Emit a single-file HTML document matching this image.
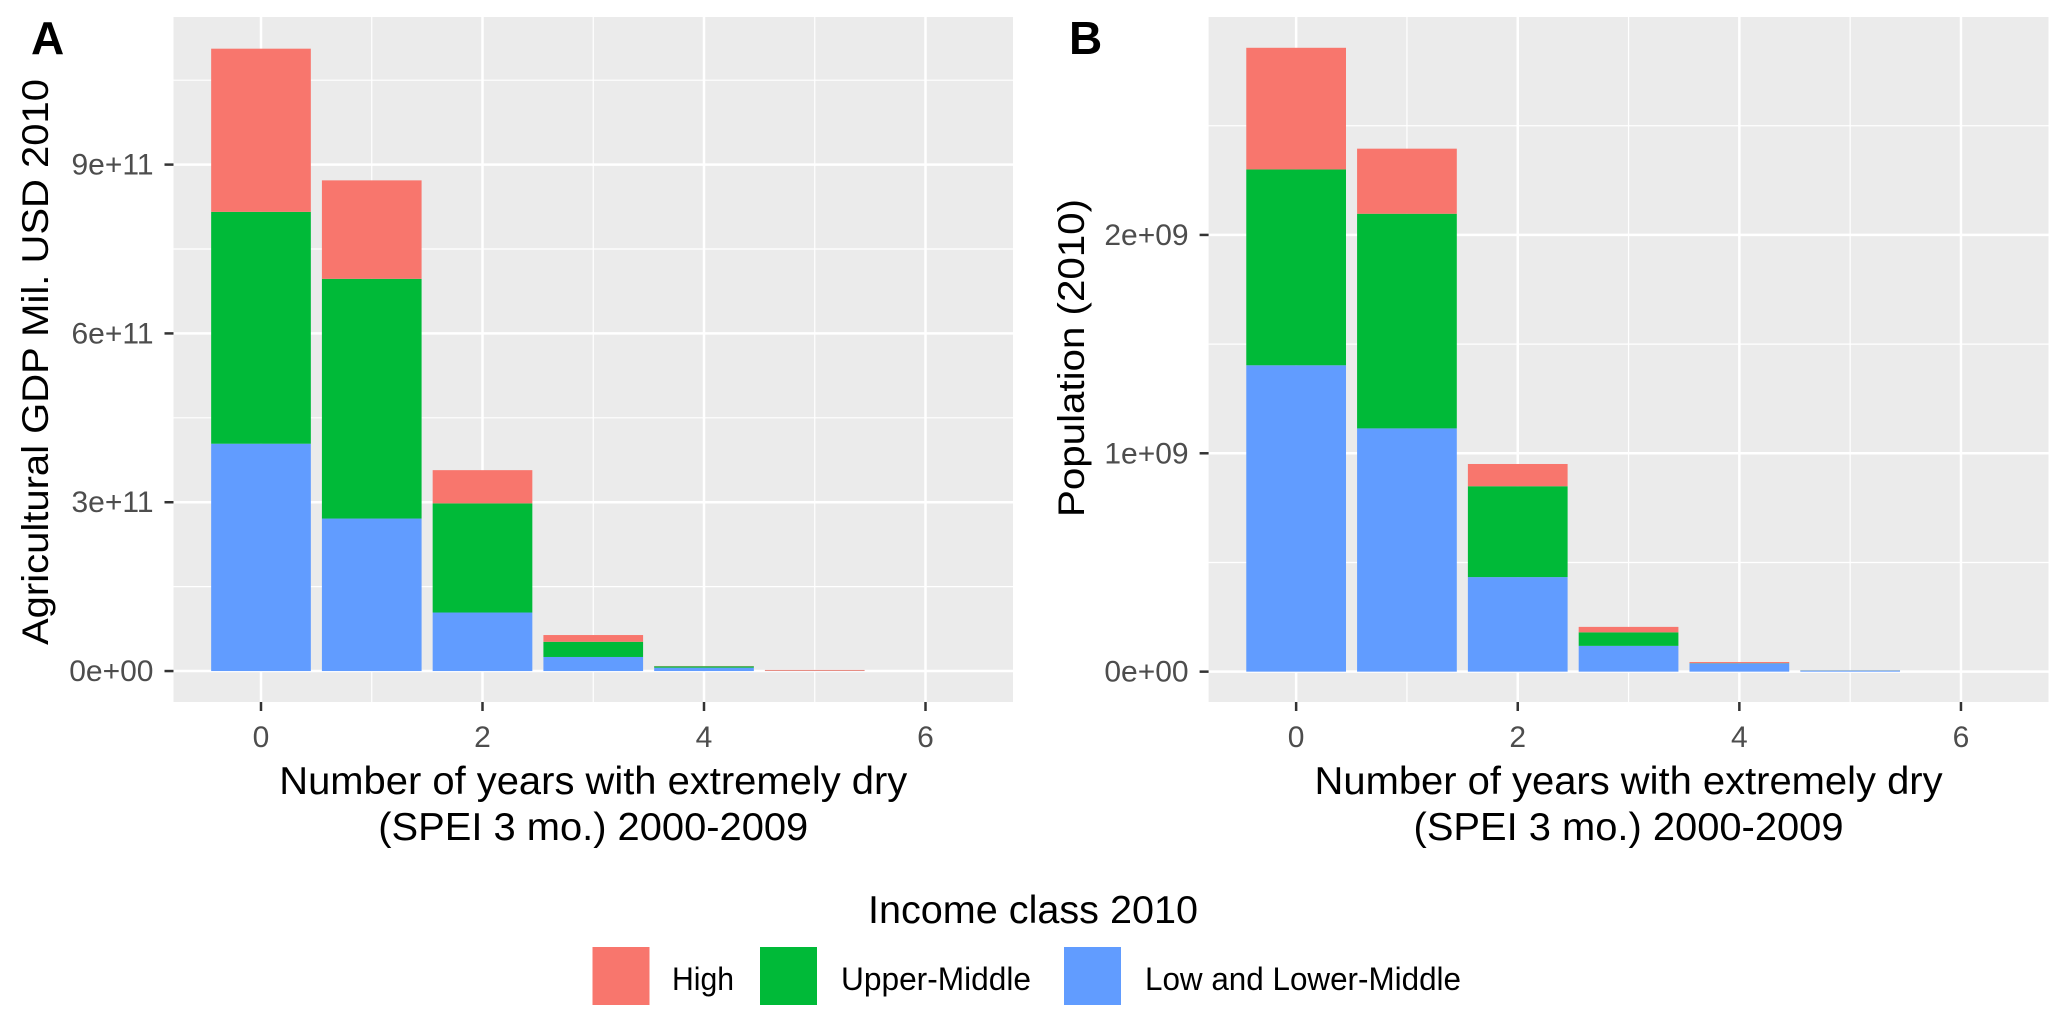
<!DOCTYPE html>
<html><head><meta charset="utf-8"><style>
html,body{margin:0;padding:0;background:#fff;}
svg{display:block;font-family:"Liberation Sans",Arial,sans-serif;}
</style></head><body>
<svg id="fig" width="2067" height="1025" viewBox="0 0 2067 1025" xmlns="http://www.w3.org/2000/svg"></svg>
<script>
// ---- data ----
const categories = [0, 1, 2, 3, 4, 5];
const seriesNames = ["Low and Lower-Middle", "Upper-Middle", "High"];
// Panel A: Agricultural GDP
const gdpLow   = [4.04e11, 2.71e11, 1.04e11, 2.5e10, 6.0e9, 0.3e9];
const gdpUpper = [4.12e11, 4.26e11, 1.94e11, 2.7e10, 2.5e9, 0.2e9];
const gdpHigh  = [2.90e11, 1.75e11, 5.9e10, 1.2e10, 0.5e9, 1.5e9];
const gdpTicks = [0, 3e11, 6e11, 9e11];
const gdpTickLabels = ["0e+00", "3e+11", "6e+11", "9e+11"];
const gdpMinor = [1.5e11, 4.5e11, 7.5e11, 10.5e11];
// Panel B: Population
const popLow   = [1.403e9, 1.114e9, 0.433e9, 0.118e9, 0.038e9, 0.005e9];
const popUpper = [0.897e9, 0.983e9, 0.416e9, 0.062e9, 0.001e9, 0.0005e9];
const popHigh  = [0.557e9, 0.298e9, 0.102e9, 0.025e9, 0.005e9, 0.0005e9];
const popTicks = [0, 1e9, 2e9];
const popTickLabels = ["0e+00", "1e+09", "2e+09"];
const popMinor = [0.5e9, 1.5e9, 2.5e9];
const xTicks = [0, 2, 4, 6];
const xMinor = [1, 3, 5];

const colors = ["#619CFF", "#00BA38", "#F8766D"];
const NS = "http://www.w3.org/2000/svg";
const svg = document.getElementById("fig");
function mk(tag, attrs, parent) {
  const e = document.createElementNS(NS, tag);
  for (const k in attrs) e.setAttribute(k, attrs[k]);
  (parent || svg).appendChild(e);
  return e;
}

function panel(cfg) {
  const g = mk("g", {});
  
  
  const L = cfg.left, R = cfg.right, T = 17, B = 702;
  const xs = v => L + (v - (-0.79)) / (6.79 - (-0.79)) * (R - L);
  const ys = v => B - (v - cfg.ymin) / (cfg.ymax - cfg.ymin) * (B - T);
  const bg = mk("rect", {x: L, y: T, width: R - L, height: B - T, fill: "#EBEBEB"}, g);
  
  
  cfg.minor.forEach(v => {
    const l = mk("line", {x1: L, x2: R, y1: ys(v), y2: ys(v), stroke: "#fff", "stroke-width": 1.2}, g);
    
    
  });
  xMinor.forEach(v => {
    const l = mk("line", {x1: xs(v), x2: xs(v), y1: T, y2: B, stroke: "#fff", "stroke-width": 1.2}, g);
    
    
  });
  cfg.ticks.forEach((v, i) => {
    const l = mk("line", {x1: L, x2: R, y1: ys(v), y2: ys(v), stroke: "#fff", "stroke-width": 2.5}, g);
    
    
    const tk = mk("line", {x1: L - 9, x2: L, y1: ys(v), y2: ys(v), stroke: "#333", "stroke-width": 2.5}, g);
    
    
    const t = mk("text", {x: L - 20, y: ys(v) + 10, "text-anchor": "end", "font-size": 30, fill: "#4D4D4D"}, g);
    t.textContent = cfg.tickLabels[i];
    
    
  });
  xTicks.forEach(v => {
    const l = mk("line", {x1: xs(v), x2: xs(v), y1: T, y2: B, stroke: "#fff", "stroke-width": 2.5}, g);
    
    
    const tk = mk("line", {x1: xs(v), x2: xs(v), y1: B, y2: B + 9, stroke: "#333", "stroke-width": 2.5}, g);
    
    
    const t = mk("text", {x: xs(v), y: B + 45, "text-anchor": "middle", "font-size": 30, fill: "#4D4D4D"}, g);
    t.textContent = String(v);
    
    
  });
  const bw = 0.9 * (xs(1) - xs(0));
  categories.forEach((c, i) => {
    let base = 0;
    cfg.series.forEach((s, k) => {
      const v = s[i];
      const r = mk("rect", {x: xs(c) - bw / 2, y: ys(base + v), width: bw, height: Math.max(0, ys(base) - ys(base + v)), fill: colors[k]}, g);
      
      
      base += v;
    });
  });
  const cx = (L + R) / 2;
  const t1 = mk("text", {x: cx, y: 794, "text-anchor": "middle", "font-size": 39, fill: "#000", textLength: 628, lengthAdjust: "spacingAndGlyphs"}, g);
  t1.textContent = "Number of years with extremely dry";
  
  
  const t2 = mk("text", {x: cx, y: 840, "text-anchor": "middle", "font-size": 39, fill: "#000", textLength: 430, lengthAdjust: "spacingAndGlyphs"}, g);
  t2.textContent = "(SPEI 3 mo.) 2000-2009";
  
  
  const yt = mk("text", {x: 0, y: 0, "text-anchor": "middle", "font-size": 37, fill: "#000", textLength: cfg.ylen, lengthAdjust: "spacingAndGlyphs", transform: "translate(" + cfg.ytx + "," + cfg.ycy + ") rotate(-90)"}, g);
  yt.textContent = cfg.ytitle;
  
  
  const lab = mk("text", {x: cfg.labx, y: 54, "font-size": 46, "font-weight": "bold", fill: "#000"}, g);
  lab.textContent = cfg.label;
  
  
}

panel({name: "panel-a-gdp", left: 173.5, right: 1013, ymin: -5.5e10, ymax: 1.1623e12,
  ticks: gdpTicks, tickLabels: gdpTickLabels, minor: gdpMinor,
  series: [gdpLow, gdpUpper, gdpHigh], ytitle: "Agricultural GDP Mil. USD 2010", ylen: 566, ycy: 362, ytx: 48, label: "A", labx: 31});
panel({name: "panel-b-population", left: 1208.6, right: 2048.5, ymin: -0.139e9, ymax: 2.998e9,
  ticks: popTicks, tickLabels: popTickLabels, minor: popMinor,
  series: [popLow, popUpper, popHigh], ytitle: "Population (2010)", ylen: 318, ycy: 358, ytx: 1084, label: "B", labx: 1069});

// legend
const lg = mk("g", {});


const lt = mk("text", {x: 1033, y: 923, "text-anchor": "middle", "font-size": 39, fill: "#000", textLength: 330, lengthAdjust: "spacingAndGlyphs"}, lg);
lt.textContent = "Income class 2010";


const legItems = [["High", "#F8766D", 592.5, 672, 62], ["Upper-Middle", "#00BA38", 760, 841, 190], ["Low and Lower-Middle", "#619CFF", 1064, 1145, 316]];
legItems.forEach(it => {
  const r = mk("rect", {x: it[2], y: 947, width: 57, height: 58, fill: it[1]}, lg);
  
  
  const t = mk("text", {x: it[3], y: 990, "font-size": 32, fill: "#000", textLength: it[4], lengthAdjust: "spacingAndGlyphs"}, lg);
  t.textContent = it[0];
  
  
});
</script>
</body></html>
